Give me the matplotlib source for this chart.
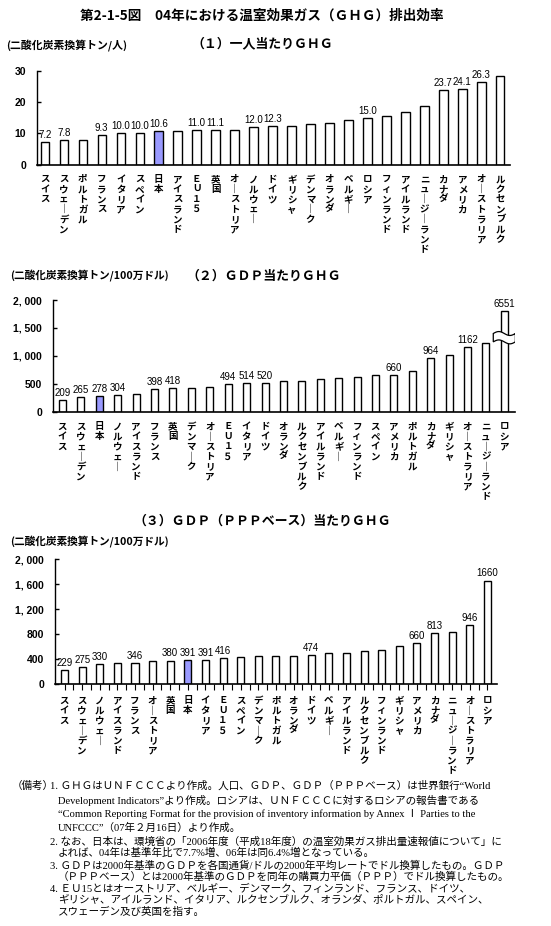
import numpy as np
import matplotlib
matplotlib.use("Agg")
import matplotlib.pyplot as plt
from matplotlib.ticker import FuncFormatter

plt.rcParams['font.family'] = ['Noto Sans CJK JP', 'DejaVu Sans']

# (1) per capita, t-CO2/person
c1 = ["スイス", "スウェーデン", "ポルトガル", "フランス", "イタリア", "スペイン", "日本",
      "アイスランド", "ＥＵ１５", "英国", "オーストリア", "ノルウェー", "ドイツ", "ギリシャ",
      "デンマーク", "オランダ", "ベルギー", "ロシア", "フィンランド", "アイルランド",
      "ニュージーランド", "カナダ", "アメリカ", "オーストラリア", "ルクセンブルク"]
v1 = [7.2, 7.8, 8.0, 9.3, 10.0, 10.0, 10.6, 10.7, 11.0, 11.1, 11.0, 12.0, 12.3, 12.3,
      12.9, 13.3, 14.2, 15.0, 15.4, 16.8, 18.7, 23.7, 24.1, 26.3, 28.3]
lab1 = ["7.2", "7.8", "", "9.3", "10.0", "10.0", "10.6", "", "11.0", "11.1", "",
        "12.0", "12.3", "", "", "", "", "15.0", "", "", "", "23.7", "24.1", "26.3", ""]

# (2) per GDP, t-CO2 / million USD
c2 = ["スイス", "スウェーデン", "日本", "ノルウェー", "アイスランド", "フランス", "英国",
      "デンマーク", "オーストリア", "ＥＵ１５", "イタリア", "ドイツ", "オランダ",
      "ルクセンブルク", "アイルランド", "ベルギー", "フィンランド", "スペイン", "アメリカ",
      "ポルトガル", "カナダ", "ギリシャ", "オーストラリア", "ニュージーランド", "ロシア"]
v2 = [209, 265, 278, 304, 311, 398, 418, 419, 437, 494, 514, 520, 544, 545, 580, 598,
      616, 652, 660, 723, 964, 1010, 1162, 1225, 6551]
lab2 = ["209", "265", "278", "304", "", "398", "418", "", "", "494", "514", "520", "", "",
        "", "", "", "", "660", "", "964", "", "1162", "", "6551"]

# (3) per GDP (PPP), t-CO2 / million USD
c3 = ["スイス", "スウェーデン", "ノルウェー", "アイスランド", "フランス", "オーストリア",
      "英国", "日本", "イタリア", "ＥＵ１５", "スペイン", "デンマーク", "ポルトガル", "オランダ",
      "ドイツ", "ベルギー", "アイルランド", "ルクセンブルク", "フィンランド", "ギリシャ",
      "アメリカ", "カナダ", "ニュージーランド", "オーストラリア", "ロシア"]
v3 = [229, 275, 330, 345, 346, 378, 380, 391, 391, 416, 430, 446, 446, 460, 474, 506,
      508, 540, 555, 620, 660, 813, 835, 946, 1660]
lab3 = ["229", "275", "330", "", "346", "", "380", "391", "391", "416", "", "", "", "",
        "474", "", "", "", "", "", "660", "813", "", "946", "1660"]

notes = [
    "1. ＧＨＧはＵＮＦＣＣＣより作成。人口、ＧＤＰ、ＧＤＰ（ＰＰＰベース）は世界銀行“World",
    "Development Indicators”より作成。ロシアは、ＵＮＦＣＣＣに対するロシアの報告書である",
    "“Common Reporting Format for the provision of inventory information by Annex Ⅰ Parties to the",
    "UNFCCC”（07年２月16日）より作成。",
    "2. なお、日本は、環境省の「2006年度（平成18年度）の温室効果ガス排出量速報値について」に",
    "よれば、04年は基準年比で7.7%増、06年は同6.4%増となっている。",
    "3. ＧＤＰは2000年基準のＧＤＰを各国通貨/ドルの2000年平均レートでドル換算したもの。ＧＤＰ",
    "（ＰＰＰベース）とは2000年基準のＧＤＰを同年の購買力平価（ＰＰＰ）でドル換算したもの。",
    "4. ＥＵ15とはオーストリア、ベルギー、デンマーク、フィンランド、フランス、ドイツ、",
    "ギリシャ、アイルランド、イタリア、ルクセンブルク、オランダ、ポルトガル、スペイン、",
    "スウェーデン及び英国を指す。",
]
note_y = [786, 801, 814, 828, 842, 853, 866, 877, 889, 899, 912]
note_x = [50, 58, 58, 58, 50, 58, 50, 58, 50, 58, 58]

JAPAN = "日本"
JP_COLOR = "#9a9aff"
W, H = 551, 926


def vert(s):
    return "\n".join("｜" if ch == "ー" else ch for ch in s)


def panel(rect, cats, vals, labels, ylim, yticks, xlim, width, fmt, cap=None, xticks=False):
    ax = fig.add_axes(rect)
    x = np.arange(len(cats))
    shown = [min(v, cap) if cap else v for v in vals]
    colors = [JP_COLOR if c == JAPAN else "white" for c in cats]
    bars = ax.bar(x, shown, width=width, color=colors, edgecolor="black", linewidth=1.0, zorder=2)
    for b, t in zip(bars, labels):
        if t:
            ax.annotate(t, (b.get_x() + b.get_width() / 2, b.get_height()), xytext=(0, 1.5),
                        textcoords="offset points", ha="center", va="bottom",
                        fontsize=7, family=["Liberation Sans", "Noto Sans CJK JP"])
    ax.set_xlim(*xlim)
    ax.set_ylim(*ylim)
    ax.set_yticks(yticks)
    ax.yaxis.set_major_formatter(FuncFormatter(fmt))
    for s in ["top", "right"]:
        ax.spines[s].set_visible(False)
    ax.spines["left"].set_linewidth(1.0)
    ax.spines["bottom"].set_linewidth(1.2)
    ax.tick_params(axis="y", direction="in", length=3, width=1, pad=8, labelsize=7.5)
    for t in ax.get_yticklabels():
        t.set_family(["Liberation Sans", "DejaVu Sans"])
        t.set_fontweight("bold")
    ax.set_xticks(x, [vert(c) for c in cats], fontsize=6.8, linespacing=1.0, va="top",
                  fontweight="bold")
    if xticks:
        ax.set_xticks(x[:-1] + 0.5, minor=True)
        ax.tick_params(axis="x", which="both", direction="out", length=4, width=0.8, pad=4)
    else:
        ax.tick_params(axis="x", length=0, pad=7)
    return ax, bars


fig = plt.figure(figsize=(W / 100, H / 100), dpi=100)

fig.text(262 / W, 1 - 16 / H, "第2-1-5図　04年における温室効果ガス（ＧＨＧ）排出効率",
         ha="center", va="center", fontsize=9.8, fontweight="bold")

# panel 1
fig.text(262 / W, 1 - 43 / H, "（１）一人当たりＧＨＧ", ha="center", va="center",
         fontsize=9.3, fontweight="bold")
fig.text(6 / W, 1 - 46 / H, "(二酸化炭素換算トン/人)", ha="left", va="center", fontsize=7.8,
         fontweight="bold")
panel([37 / W, 1 - 164.6 / H, 473 / W, 93.9 / H], c1, v1, lab1, (0, 30), [0, 10, 20, 30],
      (-0.41, 24.51), 0.44, lambda v, p: f"{v:.0f}")

# panel 2
fig.text(264 / W, 1 - 276 / H, "（２）ＧＤＰ当たりＧＨＧ", ha="center", va="center",
         fontsize=9.3, fontweight="bold")
fig.text(10 / W, 1 - 276 / H, "(二酸化炭素換算トン/100万ドル)", ha="left", va="center",
         fontsize=7.7, fontweight="bold")
ax2, bars2 = panel([53.3 / W, 1 - 411.7 / H, 461.7 / W, 111.7 / H], c2, v2, lab2, (0, 2000),
                   [0, 500, 1000, 1500, 2000], (-0.5, 24.58), 0.38,
                   lambda v, p: f"{v:,.0f}".replace(",", ", "), cap=1808)
# wavy break mark on the truncated bar
bk = bars2[-1]
cx = bk.get_x() + bk.get_width() / 2
xs = np.linspace(cx - 0.6, cx + 0.6, 40)
wave = 35 * np.sin((xs - xs[0]) / 1.2 * 2 * np.pi)
top = 1400 + wave
bot = 1250 + wave
ax2.fill(np.r_[xs, xs[::-1]], np.r_[top, bot[::-1]], facecolor="white", edgecolor="black",
         linewidth=0.9, zorder=3)

# panel 3
fig.text(262 / W, 1 - 521 / H, "（３）ＧＤＰ（ＰＰＰベース）当たりＧＨＧ", ha="center",
         va="center", fontsize=9.3, fontweight="bold")
fig.text(10 / W, 1 - 542 / H, "(二酸化炭素換算トン/100万ドル)", ha="left", va="center",
         fontsize=7.7, fontweight="bold")
panel([55 / W, 1 - 684.3 / H, 441.7 / W, 125 / H], c3, v3, lab3, (0, 2000),
      [0, 400, 800, 1200, 1600, 2000], (-0.54, 24.53), 0.4,
      lambda v, p: f"{v:,.0f}".replace(",", ", "), xticks=True)

# notes
nfam = ["Liberation Serif", "Noto Sans CJK JP"]
fig.text(12 / W, 1 - note_y[0] / H, "（備考）", ha="left", va="center", fontsize=7.6, family=nfam)
for t, xx, yy in zip(notes, note_x, note_y):
    fig.text(xx / W, 1 - yy / H, t, ha="left", va="center", fontsize=7.6, family=nfam)

fig.savefig("out.png", dpi=100)
